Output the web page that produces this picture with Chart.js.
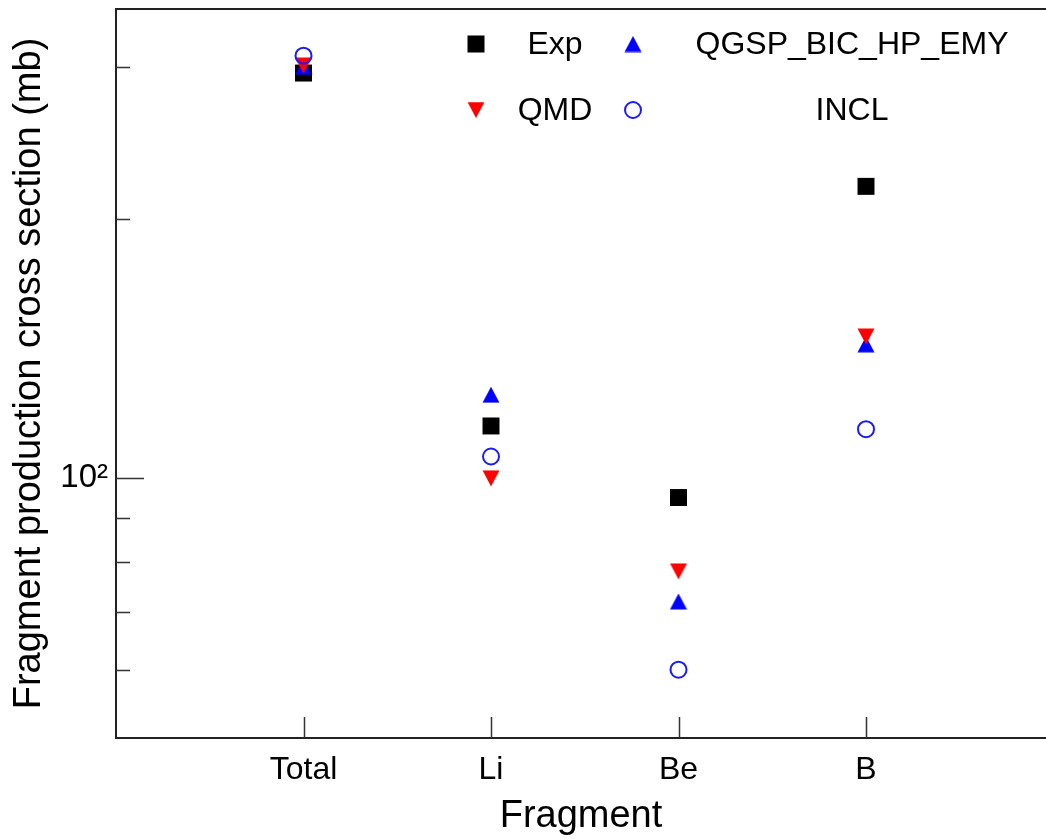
<!DOCTYPE html>
<html>
<head>
<meta charset="utf-8">
<title>Fragment production cross section</title>
<script src="https://cdn.jsdelivr.net/npm/chart.js@4.4.0/dist/chart.umd.min.js"></script>
<style>
html, body { margin: 0; padding: 0; background: #fff; overflow: hidden; }
canvas { display: block; }
</style>
</head>
<body>
<canvas id="crossSection" width="1046" height="839"></canvas>
<script>
// Fragments along the x axis, placed at x = 1..4
var fragments = ["Total", "Li", "Be", "B"];

// Cross sections (mb) per fragment
var expValues  = [295, 115, 95, 218];
var qmdValues  = [301, 100, 78, 146];
var qgspValues = [300, 125, 72, 143];
var inclValues = [309, 106, 60, 114];

var seriesNames = ["Exp", "QMD", "QGSP_BIC_HP_EMY", "INCL"];

// Labelled decade on the log axis, plus the unlabelled minor ticks
var yTickValues = [100];
var yTickLabels = ["10\u00b2"];
var yMinorTicks = [60, 70, 80, 90, 200, 300];

var FONT = "'Liberation Sans', Arial, Helvetica, sans-serif";
Chart.defaults.font.family = FONT;
Chart.defaults.color = "#000";

// Triangle markers drawn on a small canvas so they are centred on their box
function triangleMarker(color, down) {
    var c = document.createElement("canvas");
    c.width = 18;
    c.height = 17;
    var g = c.getContext("2d");
    g.fillStyle = color;
    g.beginPath();
    if (down) {
        g.moveTo(0.5, 0.5); g.lineTo(17.5, 0.5); g.lineTo(9, 16.5);
    } else {
        g.moveTo(9, 0.5); g.lineTo(17.5, 16.5); g.lineTo(0.5, 16.5);
    }
    g.closePath();
    g.fill();
    return c;
}

var upBlue = triangleMarker("#0000ff", false);
var downRed = triangleMarker("#ff0000", true);

function points(values) {
    return values.map(function (v, i) { return { x: i + 1, y: v }; });
}

var datasets = [{
    label: seriesNames[0],
    data: points(expValues),
    pointStyle: "rect",
    pointRadius: 12,
    backgroundColor: "#000",
    borderColor: "#000",
    borderWidth: 0,
    order: 4
}, {
    label: seriesNames[1],
    data: points(qmdValues),
    pointStyle: downRed,
    backgroundColor: "#ff0000",
    borderColor: "#ff0000",
    order: 2
}, {
    label: seriesNames[2],
    data: points(qgspValues),
    pointStyle: upBlue,
    backgroundColor: "#0000ff",
    borderColor: "#0000ff",
    order: 3
}, {
    label: seriesNames[3],
    data: points(inclValues),
    pointStyle: "circle",
    pointRadius: 8,
    backgroundColor: "rgba(0,0,0,0)",
    borderColor: "#1a1aff",
    borderWidth: 2,
    order: 1
}];

// Ticks point into the plot; top edge of the frame; legend inside the plot
var framePlugin = {
    id: "frame",
    afterDraw: function (chart) {
        var ctx = chart.ctx;
        var area = chart.chartArea;
        var xs = chart.scales.x;
        var ys = chart.scales.y;

        ctx.save();
        ctx.strokeStyle = "#222";
        ctx.lineWidth = 2;
        ctx.beginPath();
        ctx.moveTo(area.left - 1, area.top);
        ctx.lineTo(area.right, area.top);
        ctx.stroke();

        ctx.strokeStyle = "#333";
        ctx.lineWidth = 1.5;
        ctx.beginPath();
        fragments.forEach(function (f, i) {
            var px = Math.round(xs.getPixelForValue(i + 1)) + 0.5;
            ctx.moveTo(px, area.bottom);
            ctx.lineTo(px, area.bottom - 21);
        });
        yTickValues.forEach(function (v) {
            var py = Math.round(ys.getPixelForValue(v)) + 0.5;
            ctx.moveTo(area.left, py);
            ctx.lineTo(area.left + 28, py);
        });
        yMinorTicks.forEach(function (v) {
            var py = Math.round(ys.getPixelForValue(v)) + 0.5;
            ctx.moveTo(area.left, py);
            ctx.lineTo(area.left + 14, py);
        });
        ctx.stroke();

        // legend: two columns, two rows
        var slots = [
            { mx: 476, tx: 555, y: 44 },
            { mx: 476, tx: 555, y: 110 },
            { mx: 633, tx: 852, y: 44 },
            { mx: 633, tx: 852, y: 110 }
        ];
        ctx.font = "32px " + FONT;
        ctx.fillStyle = "#000";
        ctx.textAlign = "center";
        ctx.textBaseline = "middle";
        datasets.forEach(function (ds, i) {
            var s = slots[i];
            ctx.save();
            if (ds.pointStyle instanceof HTMLCanvasElement) {
                ctx.drawImage(ds.pointStyle, s.mx - 9, s.y - 8.5);
            } else if (ds.pointStyle === "rect") {
                ctx.fillStyle = ds.backgroundColor;
                ctx.fillRect(s.mx - 8.5, s.y - 8.5, 17, 17);
            } else {
                ctx.strokeStyle = ds.borderColor;
                ctx.lineWidth = ds.borderWidth;
                ctx.beginPath();
                ctx.arc(s.mx, s.y, ds.pointRadius, 0, Math.PI * 2);
                ctx.stroke();
            }
            ctx.restore();
            ctx.fillText(ds.label, s.tx, s.y + 1);
        });
        ctx.restore();
    }
};

new Chart(document.getElementById("crossSection"), {
    type: "scatter",
    data: { datasets: datasets },
    plugins: [framePlugin],
    options: {
        responsive: false,
        animation: false,
        devicePixelRatio: 1,
        layout: { autoPadding: false, padding: { top: 9, right: 0, bottom: 0, left: 0 } },
        plugins: {
            legend: { display: false },
            tooltip: { enabled: false }
        },
        scales: {
            x: {
                type: "linear",
                min: 0,
                max: 4.96,
                afterFit: function (scale) {
                    scale.height = 101;
                    scale.paddingLeft = 0;
                    scale.paddingRight = 0;
                },
                afterBuildTicks: function (scale) {
                    scale.ticks = fragments.map(function (f, i) { return { value: i + 1 }; });
                },
                ticks: {
                    font: { size: 32 },
                    padding: 13,
                    maxRotation: 0,
                    callback: function (value) { return fragments[value - 1]; }
                },
                grid: { display: false, drawTicks: false },
                border: { display: true, color: "#222", width: 2 },
                title: {
                    display: true,
                    text: "Fragment",
                    font: { size: 38 },
                    padding: { top: 0, bottom: 0 }
                }
            },
            y: {
                type: "logarithmic",
                min: 50,
                max: 350,
                afterFit: function (scale) {
                    scale.width = 116;
                    scale.paddingTop = 0;
                    scale.paddingBottom = 0;
                },
                afterBuildTicks: function (scale) {
                    scale.ticks = yTickValues.map(function (v) { return { value: v }; });
                },
                ticks: {
                    font: { size: 33 },
                    padding: 8,
                    callback: function (value) {
                        var k = yTickValues.indexOf(value);
                        return k >= 0 ? yTickLabels[k] : "";
                    }
                },
                grid: { display: false, drawTicks: false },
                border: { display: true, color: "#222", width: 2 },
                title: {
                    display: true,
                    text: "Fragment production cross section (mb)",
                    font: { size: 38 },
                    padding: { top: 7, bottom: 0 }
                }
            }
        }
    }
});
</script>
</body>
</html>
